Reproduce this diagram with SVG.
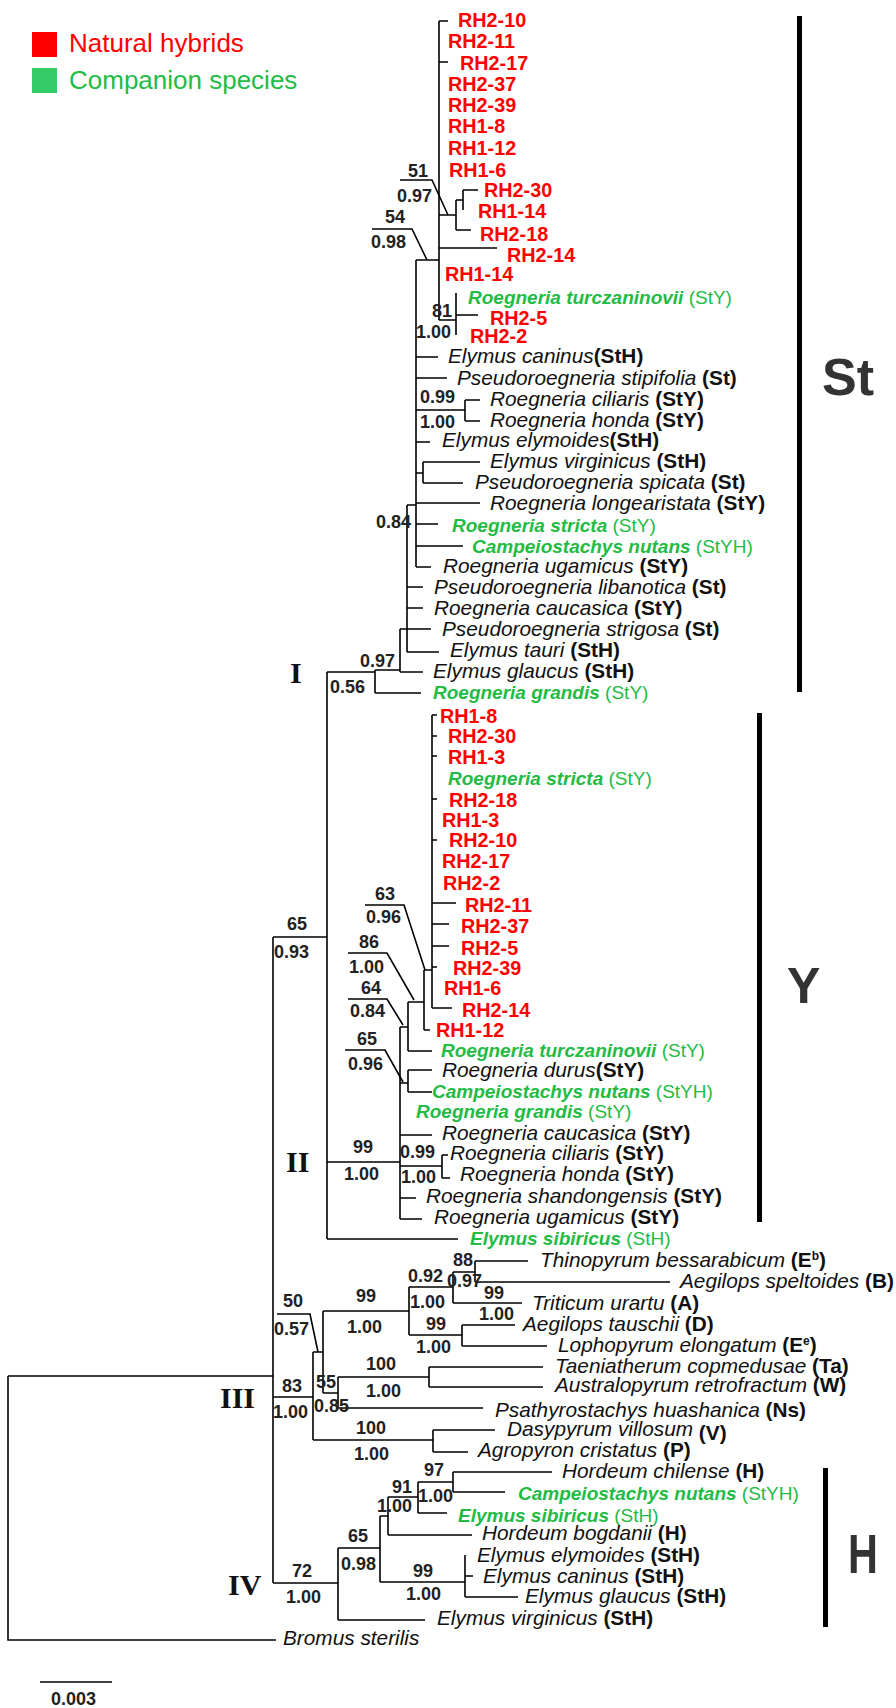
<svg xmlns="http://www.w3.org/2000/svg" width="896" height="1708" viewBox="0 0 896 1708">
<style>
.ln{stroke:#000;stroke-width:1.6;fill:none}
.bar{fill:#000}
text{font-family:"Liberation Sans",Arial,sans-serif}
.sp{font-size:20.8px;font-style:italic;fill:#111}
.g{font-style:normal;font-weight:bold}
.rh{font-size:19.8px;font-weight:bold;fill:#ff0000}
.gr{font-size:19px;font-style:italic;font-weight:bold;fill:#22bb44}
.gg{font-style:normal;font-weight:normal}
.bs{font-size:18px;font-weight:bold;fill:#222}
.cl{font-family:"Liberation Serif","Times New Roman",serif;font-weight:bold;font-size:30px;fill:#111}
.big{font-weight:bold;fill:#333}
.sup{font-size:12px}
</style>
<rect width="896" height="1708" fill="#fff"/>
<g id="legend">
<rect x="32" y="32" width="25" height="25" fill="#ff0000"/>
<rect x="32" y="68" width="25" height="25" fill="#33cc66"/>
<text x="69" y="52" font-size="26" fill="#ff0000">Natural hybrids</text>
<text x="69" y="89" font-size="26" fill="#22bb44">Companion species</text>
</g>
<g id="connectors">
<path class="ln" d="M439 21V320M439 21H448M439 62H448M439 215H456M456 200V230M456 200H463M463 190V210M463 190H478M456 230H471M439 248H497M439 320H456M456 293V335M456 315H478M416 260H439M416 260V567M416 357H438M416 378H447M416 410H465M465 400V421M465 400H480M465 421H480M416 442H430M416 473H423M423 462V483M423 462H480M423 483H463M416 503H480M407 505H416M407 505V652M416 524H438M416 546H463M416 567H431M407 587H423M407 608H423M400 629H431M407 652H439M400 629V672M400 672H423M375 670H400M375 670V693M375 693H421M327 672H375M327 672V1239"/>
<path class="ln" d="M400 180H432L448 215M372 229H412L427 260"/>
<path class="ln" d="M432 715V1008M432 715H437M432 736H437M432 756H437M432 799H437M432 840H437M432 967H437M432 903H456M432 924H449M432 946H449M432 1008H452M424 970H432M424 970V1030M424 1030H430M408 1002H424M408 1002V1051M408 1051H432M400 1027H408M400 1027V1219M400 1083H408M408 1070V1092M408 1070H432M408 1092H432M400 1135H432M400 1166H442M442 1155V1178M442 1155H448M442 1178H450M400 1198H416M400 1219H422M327 1162H400M327 1239H458M273 937H327"/>
<path class="ln" d="M365 905H404L425 970M348 953H387L414 1000M348 999H387L403 1025M345 1050H385L403 1082"/>
<path class="ln" d="M273 937V1583M8 1376H273M8 1376V1640H276"/>
<path class="ln" d="M273 1397H313M313 1352V1440M313 1352H323M323 1311V1393M323 1311H409M409 1287V1335M409 1287H453M453 1272V1303M453 1272H475M475 1261V1282M475 1261H528M475 1282H670M453 1303H522M409 1335H462M462 1325V1346M462 1325H515M462 1346H547M323 1393H338M338 1377V1408M338 1377H429M429 1367V1387M429 1367H543M429 1387H543M338 1408H483M313 1440H433M433 1430V1452M433 1430H495M433 1452H468"/>
<path class="ln" d="M277 1314H310L318 1352"/>
<path class="ln" d="M273 1583H338M338 1548V1620M338 1620H425M338 1548H380M380 1516V1582M380 1582H465M465 1555V1597M465 1576H473M465 1597H518M380 1516H388M388 1497V1535M388 1535H472M388 1497H418M418 1482V1513M418 1513H447M418 1482H453M453 1472V1492M453 1472H552M453 1492H505"/>
<path class="ln" d="M40 1682H112"/>
</g>
<g id="bars">
<rect class="bar" x="797" y="16" width="5" height="676"/>
<rect class="bar" x="757" y="713" width="5" height="509"/>
<rect class="bar" x="823" y="1468" width="5" height="159"/>
<text class="big" x="822" y="395" font-size="52">St</text>
<text class="big" x="787" y="1003" font-size="50">Y</text>
<text class="big" font-size="56" transform="translate(848 1573) scale(0.74 1)">H</text>
</g>
<g id="clade-labels">
<text class="cl" x="290" y="683">I</text>
<text class="cl" x="286" y="1172">II</text>
<text class="cl" x="220" y="1408">III</text>
<text class="cl" x="228" y="1595">IV</text>
</g>
<g id="support">
<text class="bs" x="408" y="177">51</text><text class="bs" x="397" y="202">0.97</text>
<text class="bs" x="385" y="223">54</text><text class="bs" x="371" y="248">0.98</text>
<text class="bs" x="432" y="317">81</text><text class="bs" x="416" y="338">1.00</text>
<text class="bs" x="420" y="403">0.99</text><text class="bs" x="420" y="428">1.00</text>
<text class="bs" x="376" y="528">0.84</text>
<text class="bs" x="360" y="667">0.97</text><text class="bs" x="330" y="693">0.56</text>
<text class="bs" x="287" y="930">65</text><text class="bs" x="274" y="958">0.93</text>
<text class="bs" x="375" y="900">63</text><text class="bs" x="366" y="923">0.96</text>
<text class="bs" x="359" y="948">86</text><text class="bs" x="349" y="973">1.00</text>
<text class="bs" x="361" y="994">64</text><text class="bs" x="350" y="1017">0.84</text>
<text class="bs" x="357" y="1045">65</text><text class="bs" x="348" y="1070">0.96</text>
<text class="bs" x="353" y="1153">99</text><text class="bs" x="344" y="1180">1.00</text>
<text class="bs" x="400" y="1158">0.99</text><text class="bs" x="401" y="1183">1.00</text>
<text class="bs" x="283" y="1307">50</text><text class="bs" x="274" y="1335">0.57</text>
<text class="bs" x="282" y="1392">83</text><text class="bs" x="273" y="1418">1.00</text>
<text class="bs" x="356" y="1302">99</text><text class="bs" x="347" y="1333">1.00</text>
<text class="bs" x="408" y="1282">0.92</text><text class="bs" x="410" y="1308">1.00</text>
<text class="bs" x="453" y="1266">88</text><text class="bs" x="447" y="1287">0.97</text>
<text class="bs" x="484" y="1299">99</text><text class="bs" x="479" y="1320">1.00</text>
<text class="bs" x="426" y="1330">99</text><text class="bs" x="416" y="1353">1.00</text>
<text class="bs" x="366" y="1370">100</text><text class="bs" x="366" y="1397">1.00</text>
<text class="bs" x="316" y="1388">55</text><text class="bs" x="314" y="1412">0.85</text>
<text class="bs" x="356" y="1434">100</text><text class="bs" x="354" y="1460">1.00</text>
<text class="bs" x="292" y="1577">72</text><text class="bs" x="286" y="1603">1.00</text>
<text class="bs" x="348" y="1542">65</text><text class="bs" x="341" y="1570">0.98</text>
<text class="bs" x="413" y="1577">99</text><text class="bs" x="406" y="1600">1.00</text>
<text class="bs" x="392" y="1493">91</text><text class="bs" x="377" y="1512">1.00</text>
<text class="bs" x="424" y="1476">97</text><text class="bs" x="418" y="1502">1.00</text>
<text class="bs" x="51" y="1705" font-size="18.5">0.003</text>
</g>
<g id="st-clade">
<g id="t1"><text class="rh" x="458" y="27">RH2-10</text></g>
<g id="t2"><text class="rh" x="448" y="48">RH2-11</text></g>
<g id="t3"><text class="rh" x="460" y="70">RH2-17</text></g>
<g id="t4"><text class="rh" x="448" y="91">RH2-37</text></g>
<g id="t5"><text class="rh" x="448" y="112">RH2-39</text></g>
<g id="t6"><text class="rh" x="448" y="133">RH1-8</text></g>
<g id="t7"><text class="rh" x="448" y="155">RH1-12</text></g>
<g id="t8"><text class="rh" x="449" y="177">RH1-6</text></g>
<g id="t9"><text class="rh" x="484" y="197">RH2-30</text></g>
<g id="t10"><text class="rh" x="478" y="218">RH1-14</text></g>
<g id="t11"><text class="rh" x="480" y="241">RH2-18</text></g>
<g id="t12"><text class="rh" x="507" y="262">RH2-14</text></g>
<g id="t13"><text class="rh" x="445" y="281">RH1-14</text></g>
<g id="t14"><text class="gr" x="468" y="304">Roegneria turczaninovii <tspan class="gg">(StY)</tspan></text></g>
<g id="t15"><text class="rh" x="490" y="325">RH2-5</text></g>
<g id="t16"><text class="rh" x="470" y="343">RH2-2</text></g>
<g id="t17"><text class="sp" x="448" y="363">Elymus caninus<tspan class="g">(StH)</tspan></text></g>
<g id="t18"><text class="sp" x="457" y="385">Pseudoroegneria stipifolia <tspan class="g">(St)</tspan></text></g>
<g id="t19"><text class="sp" x="490" y="406">Roegneria ciliaris <tspan class="g">(StY)</tspan></text></g>
<g id="t20"><text class="sp" x="490" y="427">Roegneria honda <tspan class="g">(StY)</tspan></text></g>
<g id="t21"><text class="sp" x="442" y="447">Elymus elymoides<tspan class="g">(StH)</tspan></text></g>
<g id="t22"><text class="sp" x="490" y="468">Elymus virginicus <tspan class="g">(StH)</tspan></text></g>
<g id="t23"><text class="sp" x="475" y="489">Pseudoroegneria spicata <tspan class="g">(St)</tspan></text></g>
<g id="t24"><text class="sp" x="490" y="510">Roegneria longearistata <tspan class="g">(StY)</tspan></text></g>
<g id="t25"><text class="gr" x="452" y="532">Roegneria stricta <tspan class="gg">(StY)</tspan></text></g>
<g id="t26"><text class="gr" x="472" y="553">Campeiostachys nutans <tspan class="gg">(StYH)</tspan></text></g>
<g id="t27"><text class="sp" x="443" y="573">Roegneria ugamicus <tspan class="g">(StY)</tspan></text></g>
<g id="t28"><text class="sp" x="434" y="594">Pseudoroegneria libanotica <tspan class="g">(St)</tspan></text></g>
<g id="t29"><text class="sp" x="434" y="615">Roegneria caucasica  <tspan class="g">(StY)</tspan></text></g>
<g id="t30"><text class="sp" x="442" y="636">Pseudoroegneria strigosa <tspan class="g">(St)</tspan></text></g>
<g id="t31"><text class="sp" x="450" y="657">Elymus tauri  <tspan class="g">(StH)</tspan></text></g>
<g id="t32"><text class="sp" x="433" y="678">Elymus glaucus <tspan class="g">(StH)</tspan></text></g>
<g id="t33"><text class="gr" x="433" y="699">Roegneria grandis <tspan class="gg">(StY)</tspan></text></g>
</g>
<g id="y-clade">
<g id="y1"><text class="rh" x="440" y="723">RH1-8</text></g>
<g id="y2"><text class="rh" x="448" y="743">RH2-30</text></g>
<g id="y3"><text class="rh" x="448" y="764">RH1-3</text></g>
<g id="y4"><text class="gr" x="448" y="785">Roegneria stricta <tspan class="gg">(StY)</tspan></text></g>
<g id="y5"><text class="rh" x="449" y="807">RH2-18</text></g>
<g id="y6"><text class="rh" x="442" y="827">RH1-3</text></g>
<g id="y7"><text class="rh" x="449" y="847">RH2-10</text></g>
<g id="y8"><text class="rh" x="442" y="868">RH2-17</text></g>
<g id="y9"><text class="rh" x="443" y="890">RH2-2</text></g>
<g id="y10"><text class="rh" x="465" y="912">RH2-11</text></g>
<g id="y11"><text class="rh" x="461" y="933">RH2-37</text></g>
<g id="y12"><text class="rh" x="461" y="955">RH2-5</text></g>
<g id="y13"><text class="rh" x="453" y="975">RH2-39</text></g>
<g id="y14"><text class="rh" x="444" y="995">RH1-6</text></g>
<g id="y15"><text class="rh" x="462" y="1017">RH2-14</text></g>
<g id="y16"><text class="rh" x="436" y="1037">RH1-12</text></g>
<g id="y17"><text class="gr" x="441" y="1057">Roegneria turczaninovii <tspan class="gg">(StY)</tspan></text></g>
<g id="y18"><text class="sp" x="442" y="1077">Roegneria durus<tspan class="g">(StY)</tspan></text></g>
<g id="y19"><text class="gr" x="432" y="1098">Campeiostachys nutans <tspan class="gg">(StYH)</tspan></text></g>
<g id="y20"><text class="gr" x="416" y="1118">Roegneria grandis <tspan class="gg">(StY)</tspan></text></g>
<g id="y21"><text class="sp" x="442" y="1140">Roegneria caucasica <tspan class="g">(StY)</tspan></text></g>
<g id="y22"><text class="sp" x="450" y="1160">Roegneria ciliaris <tspan class="g">(StY)</tspan></text></g>
<g id="y23"><text class="sp" x="460" y="1181">Roegneria honda <tspan class="g">(StY)</tspan></text></g>
<g id="y24"><text class="sp" x="426" y="1203">Roegneria shandongensis <tspan class="g">(StY)</tspan></text></g>
<g id="y25"><text class="sp" x="434" y="1224">Roegneria ugamicus <tspan class="g">(StY)</tspan></text></g>
<g id="y26"><text class="gr" x="470" y="1245">Elymus sibiricus <tspan class="gg">(StH)</tspan></text></g>
</g>
<g id="iii-clade">
<g id="c1"><text class="sp" x="540" y="1267">Thinopyrum bessarabicum <tspan class="g">(E<tspan class="sup" dy="-7">b</tspan><tspan dy="7">)</tspan></tspan></text></g>
<g id="c2"><text class="sp" x="680" y="1288">Aegilops speltoides <tspan class="g">(B)</tspan></text></g>
<g id="c3"><text class="sp" x="532" y="1310">Triticum urartu <tspan class="g">(A)</tspan></text></g>
<g id="c4"><text class="sp" x="523" y="1331">Aegilops tauschii <tspan class="g">(D)</tspan></text></g>
<g id="c5"><text class="sp" x="558" y="1352">Lophopyrum elongatum <tspan class="g">(E<tspan class="sup" dy="-7">e</tspan><tspan dy="7">)</tspan></tspan></text></g>
<g id="c6"><text class="sp" x="555" y="1373">Taeniatherum copmedusae <tspan class="g">(Ta)</tspan></text></g>
<g id="c7"><text class="sp" x="555" y="1392">Australopyrum retrofractum <tspan class="g">(W)</tspan></text></g>
<g id="c8"><text class="sp" x="495" y="1417">Psathyrostachys huashanica <tspan class="g">(Ns)</tspan></text></g>
<g id="c9"><text class="sp" x="507" y="1436">Dasypyrum villosum <tspan class="g" dy="4">(V)</tspan></text></g>
<g id="c10"><text class="sp" x="478" y="1457">Agropyron cristatus <tspan class="g">(P)</tspan></text></g>
</g>
<g id="iv-clade">
<g id="h1"><text class="sp" x="562" y="1478">Hordeum chilense <tspan class="g">(H)</tspan></text></g>
<g id="h2"><text class="gr" x="518" y="1500">Campeiostachys nutans <tspan class="gg">(StYH)</tspan></text></g>
<g id="h3"><text class="gr" x="458" y="1522">Elymus sibiricus <tspan class="gg">(StH)</tspan></text></g>
<g id="h4"><text class="sp" x="482" y="1540">Hordeum bogdanii <tspan class="g">(H)</tspan></text></g>
<g id="h5"><text class="sp" x="477" y="1562">Elymus elymoides <tspan class="g">(StH)</tspan></text></g>
<g id="h6"><text class="sp" x="483" y="1583">Elymus caninus <tspan class="g">(StH)</tspan></text></g>
<g id="h7"><text class="sp" x="525" y="1603">Elymus glaucus <tspan class="g">(StH)</tspan></text></g>
<g id="h8"><text class="sp" x="437" y="1625">Elymus virginicus <tspan class="g">(StH)</tspan></text></g>
<g id="h9"><text class="sp" x="283" y="1645">Bromus sterilis</text></g>
</g>
</svg>
